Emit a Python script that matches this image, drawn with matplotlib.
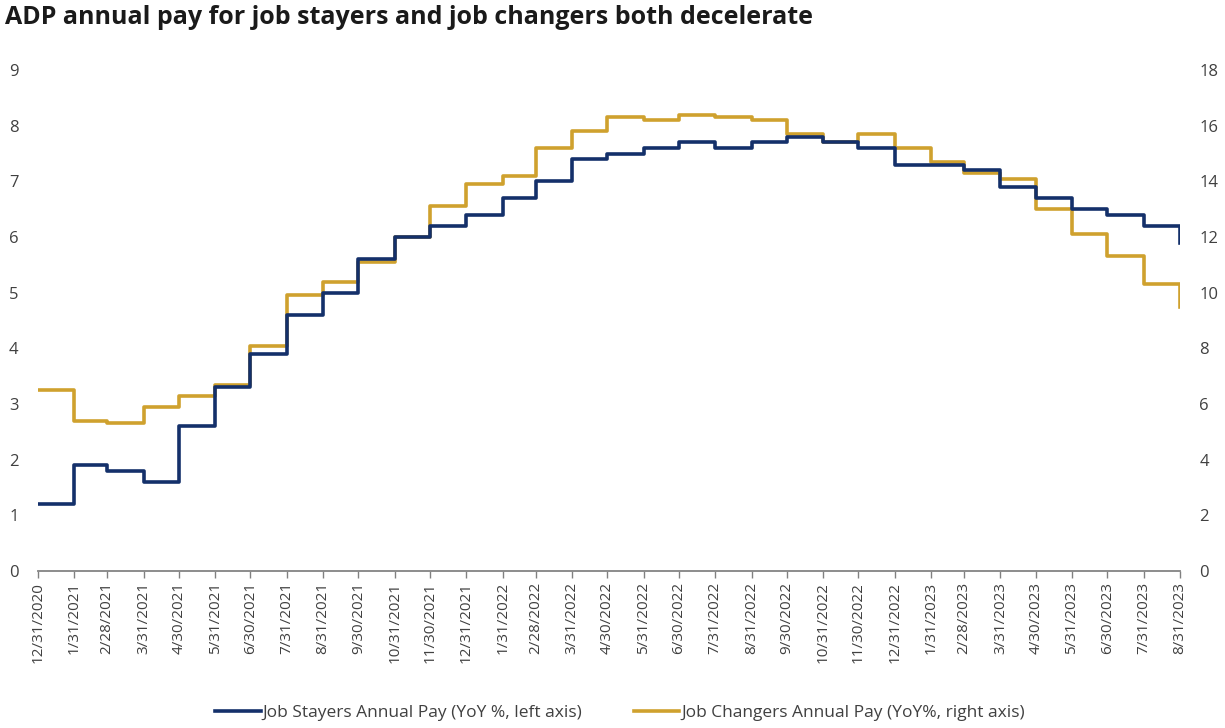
import matplotlib
matplotlib.use("Agg")
import matplotlib.pyplot as plt
import matplotlib.dates as mdates
import pandas as pd
from matplotlib.lines import Line2D

dates = ["2020-12-31", "2021-01-31", "2021-02-28", "2021-03-31", "2021-04-30", "2021-05-31",
         "2021-06-30", "2021-07-31", "2021-08-31", "2021-09-30", "2021-10-31", "2021-11-30",
         "2021-12-31", "2022-01-31", "2022-02-28", "2022-03-31", "2022-04-30", "2022-05-31",
         "2022-06-30", "2022-07-31", "2022-08-31", "2022-09-30", "2022-10-31", "2022-11-30",
         "2022-12-31", "2023-01-31", "2023-02-28", "2023-03-31", "2023-04-30", "2023-05-31",
         "2023-06-30", "2023-07-31", "2023-08-31"]

stayers = [1.2, 1.9, 1.8, 1.6, 2.6, 3.3, 3.9, 4.6, 5.0, 5.6, 6.0, 6.2, 6.4, 6.7, 7.0, 7.4,
           7.5, 7.6, 7.7, 7.6, 7.7, 7.8, 7.7, 7.6, 7.3, 7.3, 7.2, 6.9, 6.7, 6.5, 6.4, 6.2, 5.9]

changers = [6.5, 5.4, 5.3, 5.9, 6.3, 6.7, 8.1, 9.9, 10.4, 11.1, 12.0, 13.1, 13.9, 14.2, 15.2,
            15.8, 16.3, 16.2, 16.4, 16.3, 16.2, 15.7, 15.4, 15.7, 15.2, 14.7, 14.3, 14.1, 13.0,
            12.1, 11.3, 10.3, 9.5]

title = "ADP annual pay for job stayers and job changers both decelerate"
label_stayers = "Job Stayers Annual Pay (YoY %, left axis)"
label_changers = "Job Changers Annual Pay (YoY%, right axis)"

x = pd.to_datetime(dates)
tick_labels = [f"{d.month}/{d.day}/{d.year}" for d in x]

navy = "#14306a"
gold = "#cfa12e"
txt = "#404040"

plt.rcParams['font.family'] = ['Open Sans', 'DejaVu Sans']

fig = plt.figure(figsize=(12.25, 7.28), dpi=100)
ax = fig.add_axes([38/1225, 1-571/728, (1180-38)/1225, (571-70)/728])
ax2 = ax.twinx()

ax.plot(x, stayers, drawstyle="steps-post", color=navy, lw=2.6, zorder=3)
ax2.plot(x, changers, drawstyle="steps-post", color=gold, lw=2.6, zorder=2)
ax.set_zorder(ax2.get_zorder() + 1)
ax.patch.set_visible(False)

ax.set_xlim(x[0], x[-1])
ax.set_ylim(0, 9)
ax2.set_ylim(0, 18)
ax.set_yticks(range(0, 10))
ax2.set_yticks(range(0, 19, 2))

ax.set_xticks(x)
ax.set_xticklabels(tick_labels, rotation=90, fontsize=11, color=txt)
ax.tick_params(axis="x", direction="out", length=5, color="#808080", width=1, pad=3)
ax.tick_params(axis="y", length=0, labelsize=12, labelcolor=txt, pad=14)
ax2.tick_params(axis="y", length=0, labelsize=12, labelcolor=txt, pad=14)

for a in (ax, ax2):
    for s in ("left", "right", "top"):
        a.spines[s].set_visible(False)
    a.spines["bottom"].set_color("#8c8c8c")
    a.spines["bottom"].set_linewidth(1.2)

fig.text(5/1225, 1-18/728, title, fontsize=18, fontweight="bold", color="#1a1a1a",
         ha="left", va="center")

handles = [Line2D([0], [0], color=navy, lw=2.6), Line2D([0], [0], color=gold, lw=2.6)]
fig.legend(handles, [label_stayers, label_changers], loc="center", ncol=2,
           bbox_to_anchor=(620/1225, 1-713/728), frameon=False, fontsize=12.5,
           handlelength=2.6, handletextpad=0.1, columnspacing=3.0, labelcolor=txt)

fig.savefig("out.png", dpi=100)
